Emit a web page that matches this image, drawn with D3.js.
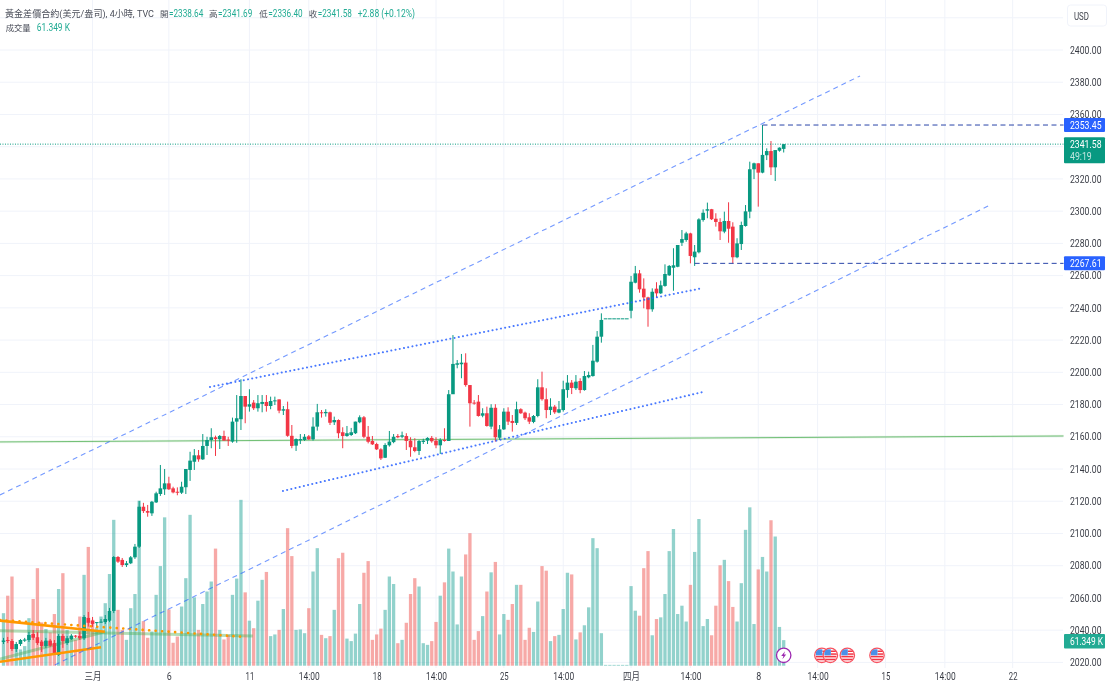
<!DOCTYPE html>
<html><head><meta charset="utf-8">
<script src="https://cdn.jsdelivr.net/npm/d3@7"></script>
<style>
html,body{margin:0;padding:0;background:#fff;overflow:hidden}
svg{display:block;filter:blur(0.4px)}
text{font-family:Roboto,"Noto Sans CJK TC",sans-serif}
</style></head><body>
<svg id="c" width="1110" height="688"></svg>
<script>
const opens=[2032.7,2033.9,2033.3,2028.3,2031.4,2033.5,2033.9,2037.6,2035.6,2032.9,2030.2,2033.5,2032.0,2024.6,2036.4,2032.0,2034.5,2036.6,2036.4,2035.0,2047.6,2045.9,2044.4,2044.8,2045.0,2045.9,2051.9,2085.4,2083.6,2080.4,2081.5,2085.2,2091.8,2116.6,2113.9,2112.5,2119.3,2124.5,2127.4,2131.1,2128.0,2125.9,2125.3,2128.7,2139.4,2144.5,2148.5,2146.0,2154.3,2158.0,2159.7,2158.5,2160.5,2158.3,2157.0,2169.4,2170.9,2185.3,2178.7,2181.2,2177.7,2180.4,2181.6,2179.1,2182.2,2183.2,2176.2,2177.1,2160.6,2154.5,2157.8,2158.0,2160.3,2158.4,2166.3,2175.2,2174.6,2175.2,2169.0,2170.4,2162.8,2160.5,2161.1,2162.2,2169.0,2172.1,2160.0,2157.4,2155.5,2152.2,2147.0,2154.7,2156.7,2160.5,2160.0,2160.5,2157.6,2153.5,2151.2,2156.8,2157.6,2159.3,2157.6,2154.7,2158.0,2157.4,2186.4,2204.7,2205.0,2206.0,2192.1,2181.2,2181.8,2173.1,2174.6,2166.3,2178.0,2159.4,2164.6,2175.6,2169.8,2168.6,2177.1,2175.0,2172.1,2169.2,2172.9,2190.7,2183.3,2176.6,2178.7,2175.0,2176.6,2189.0,2193.6,2190.1,2194.6,2189.0,2196.9,2197.7,2206.6,2222.1,2233.5,2233.5,2233.5,2233.5,2233.5,2233.5,2238.2,2255.6,2261.4,2251.9,2246.5,2239.1,2251.9,2249.0,2253.6,2260.2,2264.9,2265.5,2280.4,2282.1,2286.2,2271.4,2274.5,2294.5,2300.3,2301.2,2295.3,2293.3,2287.3,2293.9,2290.4,2271.4,2279.6,2290.8,2299.7,2326.0,2329.7,2323.9,2334.7,2337.3,2327.2,2337.5,2338.64];
const highs=[2035.2,2035.8,2034.5,2032.7,2034.5,2035.2,2038.9,2040.1,2038.9,2033.9,2035.2,2034.5,2033.9,2037.6,2037.6,2036.4,2037.6,2037.0,2039.0,2049.4,2051.3,2048.2,2045.0,2046.9,2049.4,2053.8,2086.0,2086.0,2084.8,2082.9,2086.0,2093.5,2120.2,2119.0,2117.7,2120.2,2125.9,2142.5,2140.0,2135.2,2129.0,2128.6,2132.1,2140.0,2150.7,2152.4,2151.8,2161.7,2160.0,2165.3,2160.7,2161.1,2163.8,2160.0,2171.9,2185.9,2195.7,2185.3,2189.5,2182.8,2185.9,2185.9,2185.9,2184.9,2184.9,2183.2,2179.1,2181.8,2167.3,2159.0,2161.7,2161.7,2161.1,2172.1,2180.4,2176.6,2177.1,2175.6,2172.5,2170.8,2165.9,2166.7,2165.5,2169.4,2173.3,2172.9,2166.7,2160.5,2156.3,2152.9,2156.0,2163.6,2161.7,2161.7,2163.2,2162.2,2159.7,2159.1,2158.0,2158.8,2159.7,2160.5,2159.7,2159.1,2165.3,2189.0,2223.1,2207.6,2211.4,2211.8,2192.1,2182.8,2185.9,2177.7,2178.7,2180.2,2180.2,2167.3,2177.7,2178.3,2173.5,2181.8,2177.7,2175.6,2174.6,2173.5,2195.7,2200.4,2190.1,2183.9,2179.7,2182.2,2194.8,2198.3,2195.2,2198.3,2196.3,2200.8,2200.4,2217.0,2225.6,2236.6,2233.5,2233.5,2233.5,2233.5,2233.5,2233.5,2259.8,2266.0,2263.5,2258.3,2246.9,2252.1,2255.9,2256.9,2267.0,2266.6,2277.0,2279.0,2288.3,2287.2,2286.6,2279.0,2295.6,2301.1,2305.3,2301.4,2298.7,2295.6,2299.7,2305.5,2293.1,2283.2,2293.5,2303.8,2330.7,2330.1,2329.7,2353.45,2339.0,2343.5,2337.9,2339.6,2341.69];
const lows=[2031.4,2032.0,2027.1,2026.5,2030.2,2032.7,2032.7,2033.9,2030.8,2026.5,2029.0,2029.6,2024.6,2024.0,2029.0,2030.8,2033.9,2035.2,2033.9,2033.9,2042.2,2042.0,2041.4,2044.5,2043.8,2045.0,2050.6,2081.7,2079.2,2079.2,2081.0,2084.2,2091.0,2112.7,2110.4,2110.9,2118.9,2123.3,2123.9,2127.0,2124.9,2123.7,2124.5,2124.5,2132.6,2139.4,2144.5,2145.6,2148.7,2152.9,2148.1,2152.4,2157.6,2154.3,2156.3,2156.3,2164.2,2168.4,2175.6,2176.6,2175.6,2175.2,2175.6,2177.1,2179.7,2174.6,2173.5,2160.0,2152.9,2151.2,2155.5,2157.4,2158.0,2157.6,2163.8,2171.9,2172.5,2167.3,2167.3,2159.1,2152.9,2160.0,2160.5,2161.7,2168.4,2159.1,2155.9,2154.9,2151.8,2145.6,2146.8,2153.9,2156.0,2159.1,2159.1,2151.8,2147.6,2150.4,2148.7,2155.5,2155.5,2156.3,2152.9,2149.3,2157.0,2157.4,2186.6,2202.5,2196.3,2191.1,2166.3,2179.9,2172.5,2172.1,2166.3,2164.7,2157.0,2158.0,2164.2,2167.3,2163.2,2167.3,2174.2,2170.4,2167.9,2168.4,2172.1,2182.4,2171.5,2173.5,2174.2,2174.6,2175.6,2184.2,2186.5,2189.0,2187.0,2188.6,2196.3,2197.3,2206.0,2218.4,2233.5,2233.5,2233.5,2233.5,2233.5,2233.5,2233.5,2255.2,2249.4,2239.7,2228.3,2237.6,2246.5,2248.6,2253.1,2259.8,2250.6,2265.2,2278.4,2281.0,2267.6,2266.0,2273.8,2293.5,2295.6,2294.5,2290.4,2282.1,2286.3,2280.4,2267.6,2270.8,2275.9,2290.4,2295.6,2319.9,2302.8,2323.5,2331.7,2322.4,2318.7,2336.9,2336.40];
const closes=[2033.6,2033.3,2028.3,2031.4,2033.9,2034.2,2037.0,2035.3,2032.0,2030.2,2033.5,2030.4,2025.2,2036.4,2033.3,2035.0,2036.6,2036.0,2035.0,2048.2,2044.6,2043.9,2045.0,2045.3,2046.9,2051.9,2085.4,2082.5,2080.4,2081.5,2085.2,2091.8,2116.6,2113.9,2112.9,2119.7,2124.9,2128.0,2131.1,2127.4,2125.5,2125.5,2129.0,2140.0,2145.2,2148.5,2146.0,2154.3,2158.0,2159.7,2158.6,2160.5,2157.6,2157.6,2169.4,2171.5,2185.3,2178.7,2180.2,2177.7,2180.8,2181.6,2179.1,2182.2,2182.6,2176.2,2177.1,2160.6,2154.3,2158.6,2158.6,2160.0,2158.4,2166.3,2175.2,2174.6,2175.4,2168.7,2170.4,2162.2,2160.5,2162.2,2162.8,2169.4,2172.1,2160.0,2156.9,2155.3,2152.2,2146.6,2154.9,2157.0,2160.0,2159.7,2160.9,2157.4,2153.5,2151.2,2157.4,2157.6,2159.3,2157.2,2154.7,2158.0,2157.4,2186.4,2205.2,2205.6,2206.0,2192.1,2180.8,2180.8,2172.9,2174.6,2166.7,2178.0,2159.7,2164.6,2175.6,2169.4,2168.6,2177.1,2174.6,2171.5,2169.4,2172.9,2190.7,2183.3,2176.6,2178.7,2175.2,2177.1,2189.5,2193.6,2190.3,2194.2,2189.0,2197.7,2198.3,2207.2,2222.1,2232.5,2233.5,2233.5,2233.5,2233.5,2233.5,2233.5,2256.2,2261.4,2251.5,2246.5,2239.1,2250.0,2249.0,2254.0,2261.0,2266.0,2266.4,2279.0,2282.7,2286.2,2272.2,2274.9,2294.9,2299.0,2301.2,2295.0,2293.3,2287.5,2293.9,2289.1,2271.4,2280.0,2291.4,2299.9,2326.0,2329.7,2323.9,2334.9,2337.3,2327.2,2337.9,2339.4,2341.58];
const volumes=[126,168,214,50,39,47,114,160,234,104,88,80,124,184,222,86,70,62,118,218,285,110,92,118,150,220,350,134,86,62,138,172,396,107,67,82,170,239,356,135,55,70,142,210,362,164,86,148,178,202,281,86,63,74,170,209,398,176,108,90,156,206,225,71,75,86,136,330,263,86,87,78,138,226,282,74,66,71,134,258,271,65,59,77,148,223,251,62,75,89,134,214,196,54,62,103,172,210,190,54,50,59,105,168,200,281,226,99,214,267,318,62,83,119,178,224,249,75,124,110,148,194,194,62,91,81,154,239,228,59,71,74,136,223,219,63,80,97,140,306,282,78,2,2,2,2,2,2,191,132,120,234,275,73,112,116,172,275,328,124,144,106,194,273,352,95,112,73,144,241,254,203,141,106,198,326,380,100,231,261,226,349,310,93,61.349];
const priceTicks=[2400,2380,2360,2320,2300,2280,2260,2240,2220,2200,2180,2160,2140,2120,2100,2080,2060,2040,2020];
const gridPrices=[2420,2340,...priceTicks];
const timeTickIndex=[21,39,58,72,88,102,118,132,148,162,178,192,208,222,238];
const timeTickLabels=["三月","6","11","14:00","18","14:00","25","14:00","四月","14:00","8","14:00","15","14:00","22"];
const upperChannel=[[-0.83,2123.9],[202,2383.9]];
const lowerChannel=[[12.1,2018.4],[232.7,2303.8]];
const dottedUpper=[[48.7,2190.9],[165,2252.3]];
const dottedLower=[[65.9,2126.4],[165,2187.8]];
const greenLevel=[[-0.83,2156.8],[250,2160.5]];
const orangeTop=[[-0.83,2045.9],[23.9,2039]];
const orangeBottom=[[-0.83,2020.4],[23,2029.4]];
const orangeDots=[[-0.83,2046.3],[57,2035.8]];
const fadedFlat=[[-0.83,2039.7],[58.8,2036.4]];
const fadedRise=[[-0.83,2022.1],[23.9,2039]];
const highLevel=[[179,2353.45],[250,2353.45]];
const lowLevel=[[163,2267.61],[250,2267.61]];
const lastLevel=[[-0.83,2341.58],[250,2341.58]];
const eventFlashIndex=[184];
const eventFlagIndex=[193,195,199,206];
const priceLabels=[{p:2353.45,t:"2353.45",c:"#2962ff"},{p:2267.61,t:"2267.61",c:"#2962ff"}];

const UP="#089981",DN="#f23645",PLOT=1063,BOT=668;
const svg=d3.select("#c");
const x=d3.scaleLinear().domain([0,184]).range([3.5,783.7]);
const y=d3.scaleLinear().domain([2400,2020]).range([50,662.4]);
const yv=d3.scaleLinear().domain([0,400]).range([665.7,499]);
const squeeze=(sel,len)=>sel.attr("textLength",len).attr("lengthAdjust","spacingAndGlyphs");

// grid
const g=svg.append("g").attr("stroke","#f0f3fa").attr("stroke-width",1);
g.selectAll(".h").data(gridPrices).join("line").attr("x1",0).attr("x2",PLOT).attr("y1",d=>y(d)).attr("y2",d=>y(d));
g.selectAll(".v").data(timeTickIndex).join("line").attr("x1",d=>x(d)).attr("x2",d=>x(d)).attr("y1",0).attr("y2",BOT);

const n=closes.length, idx=d3.range(n);
// volume
svg.append("g").selectAll("rect").data(idx).join("rect")
 .attr("x",i=>x(i)-1.65).attr("width",3.3)
 .attr("y",i=>yv(volumes[i])).attr("height",i=>yv(0)-yv(volumes[i]))
 .attr("fill",i=>closes[i]>=opens[i]?"#26a69a":"#ef5350").attr("opacity",.5);

// trendlines under candles
const ln=d3.line().x(d=>x(d[0])).y(d=>y(d[1]));
function tl(pts,st,w,dash,op,cap){const p=svg.append("path").attr("d",ln(pts)).attr("fill","none").attr("stroke",st).attr("stroke-width",w).attr("opacity",op||1);if(dash)p.attr("stroke-dasharray",dash);if(cap)p.attr("stroke-linecap",cap);return p;}
tl(fadedFlat,"#4caf50",3,null,.42);
tl(fadedRise,"#4caf50",3,null,.42);
tl(greenLevel,"#4caf50",2.5,null,.12);
tl(greenLevel,"#4caf50",1,null,.75);

// candles
const cg=svg.append("g");
cg.selectAll(".w").data(idx).join("line")
 .attr("x1",i=>x(i)).attr("x2",i=>x(i)).attr("y1",i=>y(highs[i])).attr("y2",i=>y(lows[i]))
 .attr("stroke",i=>closes[i]>=opens[i]?UP:DN).attr("stroke-width",1);
cg.selectAll(".b").data(idx).join("rect")
 .attr("x",i=>x(i)-1.8).attr("width",3.6)
 .attr("y",i=>y(Math.max(opens[i],closes[i])))
 .attr("height",i=>Math.max(1,Math.abs(y(opens[i])-y(closes[i]))))
 .attr("fill",i=>closes[i]>=opens[i]?UP:DN);

tl(orangeTop,"#ff9800",2.7);
tl(orangeBottom,"#ff9800",2.7);
tl(orangeDots,"#ff9800",2.6,"0.1 6.4",1,"round");
tl(upperChannel,"#2962ff",1.1,"5 4",.65);
tl(lowerChannel,"#2962ff",1.1,"5 4",.65);
tl(dottedUpper,"#2962ff",2,"0.1 4.2",.85,"round");
tl(dottedLower,"#2962ff",2,"0.1 4.2",.85,"round");
tl(highLevel,"#2a45a8",1,"5 3.5");
tl(lowLevel,"#2a45a8",1,"5 3.5");
tl(lastLevel,UP,1,"1 1.5");

// price axis
const ay=svg.append("g").attr("transform",`translate(${PLOT+7},0)`)
 .call(d3.axisRight(y).tickValues(priceTicks).tickSize(0).tickFormat(d=>d3.format(".2f")(d)));
ay.select(".domain").remove();
ay.selectAll("text").attr("x",0).attr("font-size",10).attr("fill","#131722").attr("font-family","Roboto").attr("opacity",.85)
 .attr("textLength",31.5).attr("lengthAdjust","spacingAndGlyphs");

// time axis
const tickLen=t=>/[三四]/.test(t)?17:t.length===5?21:t.length===2?8.7:5;
const ax=svg.append("g").attr("transform","translate(0,670)")
 .call(d3.axisBottom(x).tickValues(timeTickIndex).tickSize(0).tickFormat((d,i)=>timeTickLabels[i]));
ax.select(".domain").remove();
ax.selectAll("text").attr("y",3).attr("font-size",10).attr("fill","#131722").attr("opacity",.85)
 .attr("font-family",'Roboto,"Noto Sans CJK TC"')
 .attr("textLength",function(){return tickLen(this.textContent);}).attr("lengthAdjust","spacingAndGlyphs");

// USD button
svg.append("rect").attr("x",1067.5).attr("y",5).attr("width",39).attr("height",21).attr("rx",3).attr("fill","#fff").attr("stroke","#f0f3fa");
squeeze(svg.append("text").attr("x",1074).attr("y",19.5).attr("font-size",10).attr("fill","#131722").attr("opacity",.85).text("USD"),15);

// price labels
function pl(cy,h,fill,txt){svg.append("rect").attr("x",1064).attr("y",cy-h/2).attr("width",41).attr("height",h).attr("fill",fill).attr("rx",1);
 squeeze(svg.append("text").attr("x",1070).attr("y",cy+3.6).attr("font-size",10).attr("fill","#fff").text(txt),31.5);}
priceLabels.forEach(d=>pl(y(d.p),14,d.c,d.t));
svg.append("rect").attr("x",1064).attr("y",137.3).attr("width",41).attr("height",26).attr("fill",UP).attr("rx",1);
squeeze(svg.append("text").attr("x",1070).attr("y",147.9).attr("font-size",10).attr("fill","#fff").text("2341.58"),31.5);
squeeze(svg.append("text").attr("x",1070).attr("y",159.6).attr("font-size",10).attr("fill","#fff").attr("opacity",.75).text("49:19"),21.7);
svg.append("rect").attr("x",1064).attr("y",634).attr("width",41).attr("height",14.5).attr("fill","#22ab94").attr("rx",1);
squeeze(svg.append("text").attr("x",1070).attr("y",644.8).attr("font-size",10).attr("fill","#fff").text("61.349 K"),33);

// events
const EY=655.3,R=7.2;
const defs=svg.append("defs");
eventFlagIndex.forEach((d,k)=>{defs.append("clipPath").attr("id","cl"+k).append("circle").attr("cx",x(d)).attr("cy",EY).attr("r",R-.5);});
eventFlagIndex.forEach((d,k)=>{const cx=x(d);
 const f=svg.append("g");
 f.append("circle").attr("cx",cx).attr("cy",EY).attr("r",R).attr("fill","#fff").attr("stroke","#f7525f").attr("stroke-width",1.3);
 const c=f.append("g").attr("clip-path",`url(#cl${k})`);
 c.append("rect").attr("x",cx-6).attr("y",EY+.5).attr("width",12).attr("height",1.6).attr("fill","#f23645");
 c.append("rect").attr("x",cx-6).attr("y",EY+3.4).attr("width",12).attr("height",1.6).attr("fill","#f23645");
 c.append("rect").attr("x",cx+.5).attr("y",EY-4.8).attr("width",6).attr("height",1.5).attr("fill","#f23645");
 c.append("rect").attr("x",cx+.5).attr("y",EY-2).attr("width",6).attr("height",1.5).attr("fill","#f23645");
 c.append("rect").attr("x",cx-6).attr("y",EY-6).attr("width",6.5).attr("height",6).attr("fill","#4a90e8");
});
eventFlashIndex.forEach(d=>{const cx=x(d);
 svg.append("circle").attr("cx",cx).attr("cy",EY).attr("r",R).attr("fill","#fff").attr("stroke","#9c27b0").attr("stroke-width",1.3);
 svg.append("path").attr("fill","#9c27b0").attr("d",`M${cx+1.3} ${EY-4} L${cx-2.5} ${EY+.8} L${cx-.3} ${EY+.8} L${cx-1.3} ${EY+4} L${cx+2.5} ${EY-.8} L${cx+.3} ${EY-.8} Z`);
});

// legend
const GR="#4a4e5a",TE="#22ab94";
function lg(xp,yp,t,c,len,fs){squeeze(svg.append("text").attr("x",xp).attr("y",yp).attr("font-size",fs||10).attr("fill",c).attr("font-family",'Roboto,"Noto Sans CJK TC"').text(t),len);}
lg(5,16.5,"黃金差價合約(美元/盎司), 4小時, TVC",GR,149,9.4);
lg(160,16.5,"開",GR,8.5,8.5);lg(169,16.5,"=2338.64",TE,34.3);
lg(209,16.5,"高",GR,8.5,8.5);lg(218,16.5,"=2341.69",TE,34.3);
lg(259.3,16.5,"低",GR,8.5,8.5);lg(268.3,16.5,"=2336.40",TE,34.3);
lg(308.7,16.5,"收",GR,8.5,8.5);lg(317.7,16.5,"=2341.58",TE,34.3);
lg(357.7,16.5,"+2.88 (+0.12%)",TE,57.3);
lg(5.7,31,"成交量",GR,25,8.5);lg(36.7,31,"61.349 K",TE,33.3);
</script>
</body></html>
